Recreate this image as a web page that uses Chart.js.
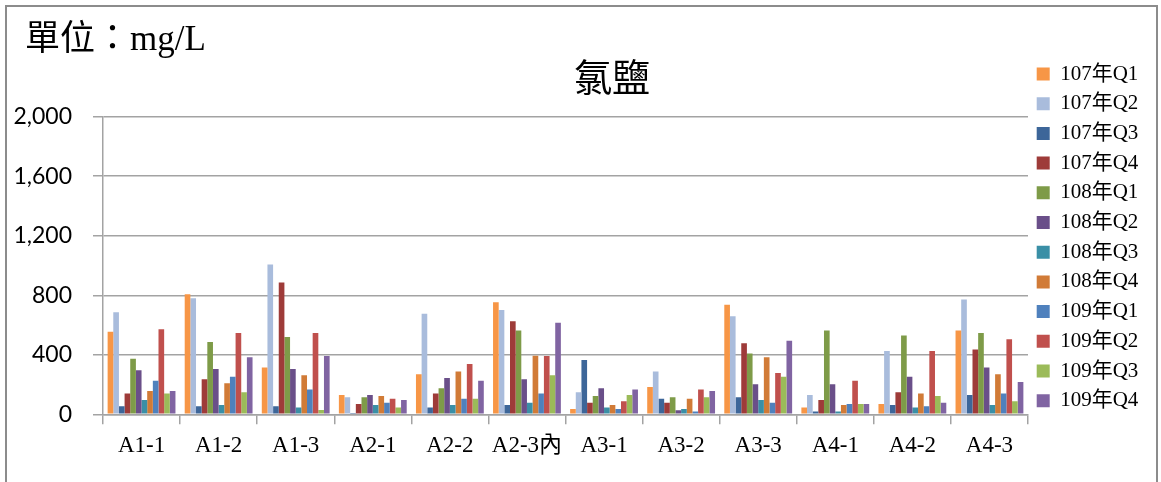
<!DOCTYPE html>
<html>
<head>
<meta charset="utf-8">
<script src="https://cdn.jsdelivr.net/npm/chart.js@4/dist/chart.umd.min.js"></script>
<style>
  html, body { margin: 0; padding: 0; background: #fff; }
  #wrap { position: relative; width: 1161px; height: 482px; overflow: hidden; }
  #frame { position: absolute; left: 5px; top: 5px; width: 1153px; height: 500px; border: 2px solid #8c8c8c; box-sizing: border-box; }
  #c { position: absolute; left: 0; top: 0; }
</style>
</head>
<body>
<div id="wrap">
  <div id="frame"></div>
  <canvas id="c" width="1161" height="482"></canvas>
</div>
<script>
const categories = ['A1-1','A1-2','A1-3','A2-1','A2-2','A2-3內','A3-1','A3-2','A3-3','A4-1','A4-2','A4-3'];
const seriesNames = ['107年Q1','107年Q2','107年Q3','107年Q4','108年Q1','108年Q2','108年Q3','108年Q4','109年Q1','109年Q2','109年Q3','109年Q4'];
const s107Q1 = [555, 806, 314, 130, 269, 753, 36, 184, 737, 45, 69, 564];
const s107Q2 = [685, 780, 1006, 114, 676, 701, 148, 287, 659, 130, 426, 771];
const s107Q3 = [54, 54, 54, 9, 45, 63, 365, 105, 114, 18, 63, 130];
const s107Q4 = [139, 235, 885, 69, 139, 625, 78, 78, 477, 96, 148, 435];
const s108Q1 = [374, 486, 520, 114, 175, 564, 123, 114, 408, 564, 529, 547];
const s108Q2 = [296, 305, 305, 130, 244, 235, 175, 27, 202, 202, 253, 314];
const s108Q3 = [96, 63, 45, 63, 63, 78, 45, 36, 96, 18, 45, 63];
const s108Q4 = [157, 208, 262, 123, 287, 394, 63, 105, 383, 63, 139, 269];
const s109Q1 = [226, 253, 166, 78, 105, 139, 36, 18, 78, 69, 54, 139];
const s109Q2 = [571, 547, 547, 105, 338, 392, 87, 166, 278, 226, 426, 504];
const s109Q3 = [139, 148, 29, 45, 105, 262, 130, 114, 253, 69, 123, 87];
const s109Q4 = [157, 383, 392, 96, 226, 616, 166, 157, 495, 69, 78, 217];
const yTicks = [0, 400, 800, 1200, 1600, 2000];
const titleText = '氯鹽';
const unitText = '單位：mg/L';

const seriesValues = [s107Q1, s107Q2, s107Q3, s107Q4, s108Q1, s108Q2, s108Q3, s108Q4, s109Q1, s109Q2, s109Q3, s109Q4];
const colors = ['#F79646','#A9BCDC','#3D6699','#9E3B39','#7E9B48','#6A4F89','#3A8FA6','#D17B37','#4F81BD','#C0504D','#9BBB59','#8064A2'];

const serifCJK = '"Liberation Serif", "Noto Sans CJK TC", serif';
const gridColor = '#a3a3a3';

const headerPlugin = {
  id: 'headerText',
  afterDraw(chart) {
    const ctx = chart.ctx;
    ctx.save();
    ctx.fillStyle = '#000';
    ctx.textBaseline = 'middle';
    ctx.textAlign = 'left';
    ctx.font = '35px ' + serifCJK;
    ctx.fillText(unitText, 25, 41);
    ctx.textAlign = 'center';
    ctx.font = '38px ' + serifCJK;
    ctx.fillText(titleText, 612, 81);
    ctx.restore();
  }
};

new Chart(document.getElementById('c'), {
  type: 'bar',
  data: {
    labels: categories,
    datasets: seriesNames.map((n, i) => ({
      label: n,
      data: seriesValues[i],
      xAxisID: 'x',
      yAxisID: 'y',
      backgroundColor: colors[i],
      borderWidth: 0,
      categoryPercentage: 0.88,
      barPercentage: 1.0
    }))
  },
  options: {
    responsive: false,
    devicePixelRatio: 1,
    animation: false,
    layout: { padding: { left: 0, right: 23, top: 0, bottom: 7.3 } },
    plugins: {
      legend: {
        position: 'right',
        align: 'center',
        maxWidth: 110,
        labels: {
          boxWidth: 13,
          boxHeight: 13,
          padding: 8.7,
          color: '#000',
          font: { family: serifCJK, size: 21 }
        }
      },
      tooltip: { enabled: false },
      title: { display: false }
    },
    scales: {
      x: {
        position: 'bottom',
        grid: { drawOnChartArea: false, drawTicks: true, tickLength: 10, color: gridColor, lineWidth: 1.5, offset: true },
        border: { color: gridColor, width: 1.5 },
        ticks: { color: '#000', font: { family: serifCJK, size: 23 }, padding: 8, maxRotation: 0, autoSkip: false },
        afterFit: s => { s.height = 482 - 7.3 - 414.3; }
      },
      y: {
        min: 0,
        max: 2000,
        afterBuildTicks: s => { s.ticks = yTicks.map(v => ({ value: v })); },
        grid: { color: gridColor, lineWidth: 1.5, tickLength: 10 },
        border: { color: gridColor, width: 1.5 },
        ticks: {
          color: '#000',
          padding: 21,
          font: { family: 'Lato, "Open Sans", sans-serif', size: 23 },
          callback: v => Number(v).toLocaleString('en-US')
        },
        afterFit: s => { s.width = 103; }
      },
      topSpace: {
        type: 'linear',
        axis: 'x',
        position: 'top',
        display: true,
        grid: { display: false, drawTicks: false },
        ticks: { display: false },
        border: { display: false },
        afterFit: s => { s.height = 116.7; }
      }
    }
  },
  plugins: [headerPlugin]
});
</script>
</body>
</html>
